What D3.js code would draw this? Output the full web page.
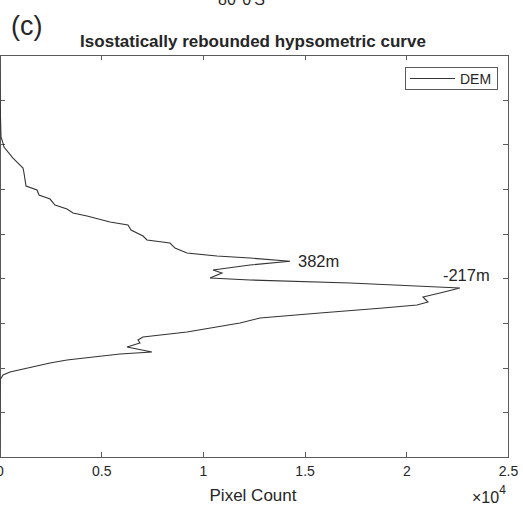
<!DOCTYPE html>
<html>
<head>
<meta charset="utf-8">
<script src="https://cdn.jsdelivr.net/npm/d3@7"></script>
<style>
  html, body { margin: 0; padding: 0; background: #fff; }
  svg { display: block; }
  text { font-family: "Liberation Sans", Arial, sans-serif; fill: #262626; }
</style>
</head>
<body>
<svg id="chart" width="523" height="507"></svg>
<script>
// Elevation (m) of each traced vertex of the hypsometric curve, top to bottom
const elevations = [5000, 3992, 3164, 3029, 2940, 2693, 2470, 2358, 2067, 1977, 1865, 1775, 1641, 1552, 1462, 1395, 1261, 1194, 1081, 947, 858, 790, 678, 566, 499, 455, 382, 298, 186, 119, 7, -37, -105, -217, -329, -418, -530, -598, -665, -777, -889, -1001, -1202, -1314, -1381, -1448, -1538, -1650, -1695, -1829, -1896, -2098, -2165, -2277, -4000];
// Pixel count at each elevation
const pixelCounts = [0, 25, 74, 172, 221, 664, 1155, 1204, 1303, 1843, 1942, 2483, 2728, 3318, 3613, 4302, 5432, 6317, 6465, 7055, 7251, 8382, 8628, 9217, 10692, 12315, 14281, 12315, 10496, 10938, 10348, 12315, 17231, 22638, 21655, 20819, 21065, 20524, 18853, 15756, 12807, 11823, 9217, 7055, 6809, 6907, 6268, 7497, 5924, 3318, 2483, 516, 172, 25, 0];
const xTicks = [0, 5000, 10000, 15000, 20000, 25000];
const xTickLabels = ["0", "0.5", "1", "1.5", "2", "2.5"];
const yTicks = [-4000, -3000, -2000, -1000, 0, 1000, 2000, 3000, 4000, 5000];
const peakLabels = [{ elev: 382, count: 14281, text: "382m" }, { elev: -217, count: 22638, text: "-217m" }];
const seriesName = "DEM";

(function () {
const svg = d3.select("#chart");
const pL = -0.5, pR = 508, pT = 55, pB = 457;
const x = d3.scaleLinear().domain([0, 25000]).range([pL, pR]);
const y = d3.scaleLinear().domain([-4000, 5000]).range([pB, pT]);
const axisColor = "#5a5a5a";

// stray text from panel above
svg.append("text").attr("x", 218).attr("y", 5).attr("font-size", 16).text("80°0'S");
// panel label
svg.append("text").attr("x", 11).attr("y", 35).attr("font-size", 27).text("(c)");
// title
svg.append("text").attr("x", 253).attr("y", 47).attr("text-anchor", "middle")
  .attr("font-size", 17).attr("font-weight", "bold").text("Isostatically rebounded hypsometric curve");

// axes (inward ticks on all four sides)
const gx = svg.append("g").attr("transform", `translate(0,${pB})`)
  .call(d3.axisBottom(x).tickValues(xTicks).tickFormat((d, i) => xTickLabels[i]).tickSize(-5).tickPadding(9));
const gxt = svg.append("g").attr("transform", `translate(0,${pT})`)
  .call(d3.axisTop(x).tickValues(xTicks).tickFormat("").tickSize(-5));
const gyl = svg.append("g").attr("transform", `translate(${pL},0)`)
  .call(d3.axisLeft(y).tickValues(yTicks).tickFormat("").tickSize(-5));
const gyr = svg.append("g").attr("transform", `translate(${pR},0)`)
  .call(d3.axisRight(y).tickValues(yTicks).tickFormat("").tickSize(-5));
[gx, gxt, gyl, gyr].forEach(g => {
  g.selectAll("path").attr("stroke", axisColor).attr("shape-rendering", "crispEdges");
  g.selectAll("line").attr("stroke", axisColor).attr("shape-rendering", "crispEdges");
  g.selectAll("text").attr("font-size", 14).attr("fill", "#262626")
    .attr("font-family", '"Liberation Sans", Arial, sans-serif');
});

// axis label
svg.append("text").attr("x", 253).attr("y", 501).attr("text-anchor", "middle").attr("font-size", 17).text("Pixel Count");
const mult = svg.append("text").attr("x", 472).attr("y", 503).attr("font-size", 16);
mult.append("tspan").text("×10");
mult.append("tspan").attr("dy", -9).attr("font-size", 12).text("4");

// curve
const data = elevations.map((e, i) => ({ e, c: pixelCounts[i] }));
svg.append("path").datum(data)
  .attr("fill", "none").attr("stroke", "#333").attr("stroke-width", 1.1)
  .attr("d", d3.line().x(d => x(d.c)).y(d => y(d.e)));

// peak annotations
svg.selectAll(".peak").data(peakLabels).join("text")
  .attr("class", "peak")
  .attr("x", d => x(d.count) + (d.elev > 0 ? 8 : -17))
  .attr("y", d => y(d.elev) + (d.elev > 0 ? 6 : -7))
  .attr("font-size", 16.5).text(d => d.text);

// legend
const lg = svg.append("g");
lg.append("rect").attr("x", 405.5).attr("y", 67.5).attr("width", 92).attr("height", 22)
  .attr("fill", "#fff").attr("stroke", axisColor);
lg.append("line").attr("x1", 410).attr("x2", 455).attr("y1", 78.5).attr("y2", 78.5)
  .attr("stroke", "#333").attr("stroke-width", 1.1);
lg.append("text").attr("x", 460).attr("y", 83.5).attr("font-size", 14).text(seriesName);
})();
</script>
</body>
</html>
